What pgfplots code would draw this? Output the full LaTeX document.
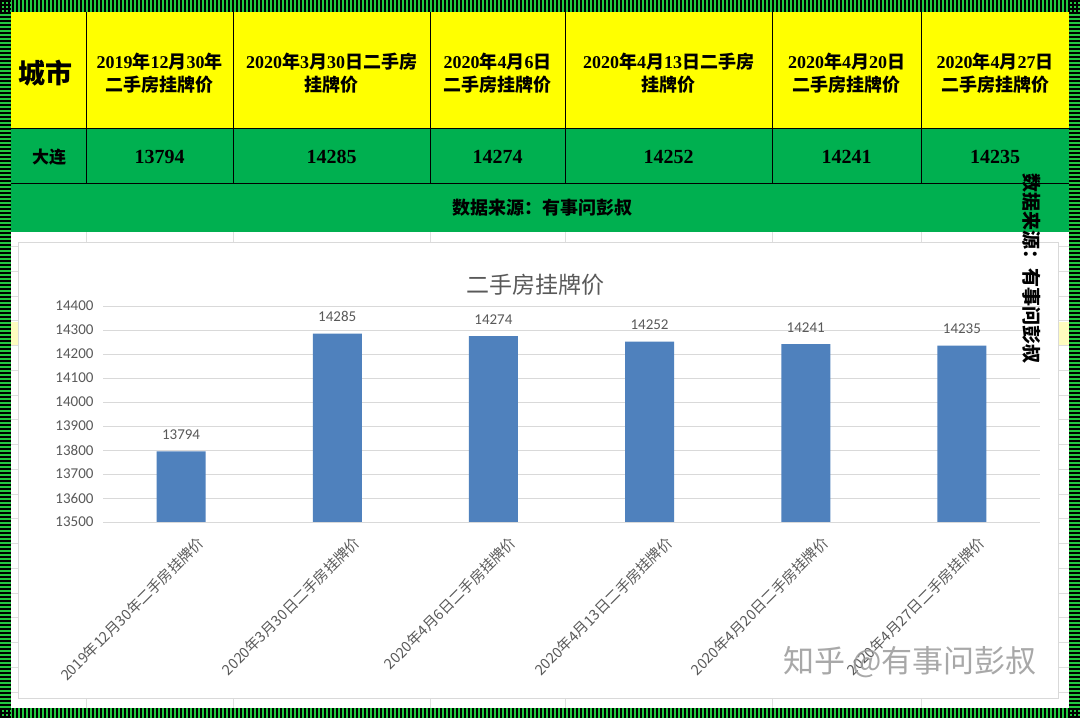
\documentclass[border=0pt]{standalone}
\usepackage{pgfplots}
\pgfplotsset{compat=1.18}
\usepackage{fontspec}
\setmainfont{Liberation Serif}
\newfontfamily\cjk{Noto Sans CJK SC}
\newfontfamily\carlito{Carlito}
\newcommand\C[1]{{\cjk\bfseries #1}}
\definecolor{bordg}{RGB}{34,200,64}
\definecolor{tabg}{RGB}{0,176,80}
\definecolor{tabY}{RGB}{255,255,0}
\definecolor{barc}{RGB}{79,129,189}
\definecolor{gridc}{RGB}{217,217,217}
\definecolor{txtc}{RGB}{89,89,89}
\definecolor{sheetg}{RGB}{222,222,222}
\begin{document}
\begin{tikzpicture}[x=1pt,y=1pt]
\useasboundingbox (0,0) rectangle (1080,718);
% border
\fill[bordg] (0,0) rectangle (1080,718);
\draw[black,line width=12pt,dash pattern=on 2.2pt off 1.8pt] (0,712)--(1080,712);
\draw[black,line width=10pt,dash pattern=on 2.2pt off 1.8pt] (0,5)--(1080,5);
\draw[black,line width=11pt,dash pattern=on 2.2pt off 1.8pt] (5.5,0)--(5.5,718);
\draw[black,line width=11pt,dash pattern=on 2.2pt off 1.8pt] (1074.5,0)--(1074.5,718);
% sheet area
\fill[white] (11,10) rectangle (1069,486);
\foreach \gx in {86,233,430,565,772,921}{\draw[sheetg,line width=0.8pt] (\gx,10)--(\gx,486);}
\foreach \k in {0,...,18}{\draw[sheetg,line width=0.8pt] (11,{718-246.5-\k*24.75})--(1069,{718-246.5-\k*24.75});}
\fill[yellow!25] (11,{718-345}) rectangle (18,{718-322});
\fill[yellow!25] (1058,{718-345}) rectangle (1069,{718-322});
% table
\fill[tabY] (11,590) rectangle (1069,706);
\fill[tabg] (11,486) rectangle (1069,590);
\draw[black,line width=0.8pt] (11,590)--(1069,590);
\draw[black,line width=0.8pt] (11,535)--(1069,535);
\foreach \gx in {86,233,430,565,772,921}{\draw[black,line width=0.8pt] (\gx,535)--(\gx,706);}
\node[font=\cjk\bfseries\fontsize{27}{27}\selectfont] at (45,645) {城市};
\begin{scope}[every node/.style={align=center,font=\bfseries\fontsize{18}{23}\selectfont}]
\node at (159.5,645) {2019\C{年}12\C{月}30\C{年}\\\C{二手房挂牌价}};
\node at (331.5,645) {2020\C{年}3\C{月}30\C{日二手房}\\\C{挂牌价}};
\node at (497.5,645) {2020\C{年}4\C{月}6\C{日}\\\C{二手房挂牌价}};
\node at (668.5,645) {2020\C{年}4\C{月}13\C{日二手房}\\\C{挂牌价}};
\node at (846.5,645) {2020\C{年}4\C{月}20\C{日}\\\C{二手房挂牌价}};
\node at (995,645) {2020\C{年}4\C{月}27\C{日}\\\C{二手房挂牌价}};
\end{scope}
\begin{scope}[every node/.style={font=\bfseries\fontsize{20}{20}\selectfont}]
\node[font=\cjk\bfseries\fontsize{17}{17}\selectfont] at (49,561) {大连};
\node at (159.5,561) {13794};
\node at (331.5,561) {14285};
\node at (497.5,561) {14274};
\node at (668.5,561) {14252};
\node at (846.5,561) {14241};
\node at (995,561) {14235};
\end{scope}
\node[font=\cjk\bfseries\fontsize{18}{18}\selectfont] at (542,510) {数据来源：有事问彭叔};
% chart area
\filldraw[fill=white,draw=gridc,line width=0.8pt] (18,20) rectangle (1058,476);
\node[font=\cjk\fontsize{23}{23}\selectfont,text=txtc] at (535,433) {二手房挂牌价};
\begin{scope}[shift={(103,196)}]
\begin{axis}[
  scale only axis,
  width=937pt, height=216pt,
  xmin=-0.5, xmax=5.5, ymin=13500, ymax=14400,
  ytick={13500,13600,...,14400},
  scaled y ticks=false,
  xtick={0,...,5},
  xticklabels={2019年12月30年二手房挂牌价,2020年3月30日二手房挂牌价,2020年4月6日二手房挂牌价,2020年4月13日二手房挂牌价,2020年4月20日二手房挂牌价,2020年4月27日二手房挂牌价},
  ymajorgrids, grid style={draw=gridc,line width=0.8pt},
  axis line style={draw=none},
  major tick length=0pt,
  ybar, bar width=49pt,
  /pgf/number format/assume math mode=true,
  /pgf/number format/1000 sep={},
  nodes near coords,
  every node near coord/.append style={font=\carlito\fontsize{15}{15}\selectfont,text=txtc,yshift=8pt},
  yticklabel style={font=\carlito\fontsize{15}{15}\selectfont,text=txtc,xshift=-6pt},
  xticklabel style={font=\cjk\fontsize{14.5}{14.5}\selectfont,text=txtc,inner sep=0pt,xshift=20pt,yshift=-18pt,rotate=45,anchor=east},
]
\addplot[fill=barc,draw=none] coordinates {(0,13794) (1,14285) (2,14274) (3,14252) (4,14241) (5,14235)};
\end{axis}
\end{scope}
% watermark
\node[font=\cjk\fontsize{31}{31}\selectfont,text=black!40,opacity=0.85] at (910,56) {知乎 @有事问彭叔};
% vertical source text
\node[font=\cjk\bfseries\fontsize{19}{19}\selectfont,rotate=-90] at (1032,449) {数据来源：有事问彭叔};
\end{tikzpicture}
\end{document}
